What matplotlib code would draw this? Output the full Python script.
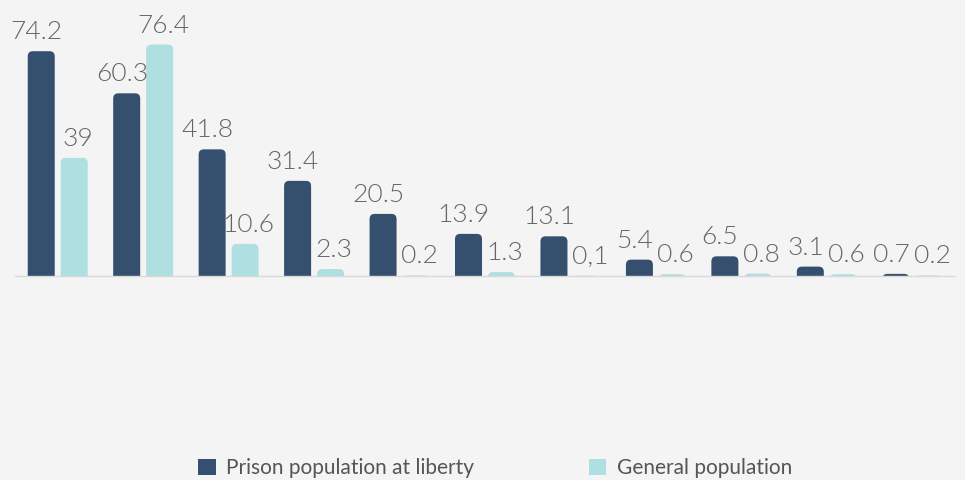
import numpy as np
import matplotlib
matplotlib.use('Agg')
import matplotlib.pyplot as plt
from matplotlib.patches import FancyBboxPatch, Patch

plt.rcParams['font.family'] = ['Lato', 'DejaVu Sans']

# data (categories have no visible labels)
n_groups = 11
prison = [74.2, 60.3, 41.8, 31.4, 20.5, 13.9, 13.1, 5.4, 6.5, 3.1, 0.7]
general = [39, 76.4, 10.6, 2.3, 0.2, 1.3, 0.1, 0.6, 0.8, 0.6, 0.2]
prison_labels = ['74.2', '60.3', '41.8', '31.4', '20.5', '13.9', '13.1', '5.4', '6.5', '3.1', '0.7']
general_labels = ['39', '76.4', '10.6', '2.3', '0.2', '1.3', '0,1', '0.6', '0.8', '0.6', '0.2']
series_names = ['Prison population at liberty', 'General population']

dark = '#34506e'
light = '#b0dfe1'
bg = '#f4f4f4'
txt = '#666666'

W, H = 965, 480
fig = plt.figure(figsize=(W / 100, H / 100), dpi=100, facecolor=bg)
ax = fig.add_axes([15 / W, (H - 276) / H, 940 / W, 276 / H])
ax.set_facecolor(bg)

x = np.arange(n_groups)
bw = 0.316
off = 0.193
ax.set_xlim(-0.5, n_groups - 0.5)
ax.set_ylim(0, 91.1)


def rounded_bars(xs, vals, color):
    bars = ax.bar(xs, vals, width=bw, color=color)
    # px per data unit, to keep the corner radius round
    px_x = 940 / n_groups
    px_y = 276 / 91.1
    aspect = px_x / px_y
    for b in bars:
        b.set_visible(False)
        x0 = b.get_x()
        h = b.get_height()
        r = 0.06
        p = FancyBboxPatch((x0, -3), bw, h + 3,
                           boxstyle=f"round,pad=0,rounding_size={r}",
                           mutation_aspect=aspect, facecolor=color,
                           edgecolor='none')
        ax.add_patch(p)
        p.set_clip_path(ax.patch)
    return bars


rounded_bars(x - off, prison, dark)
rounded_bars(x + off, general, light)

# labels sit slightly apart from each other, like in the original
for xi, v, s in zip(x - off, prison, prison_labels):
    ax.annotate(s, (xi, v), xytext=(-3.5, 5), textcoords='offset points',
                ha='center', va='bottom', fontsize=19, color=txt, fontweight=300)
for xi, v, s in zip(x + off, general, general_labels):
    ax.annotate(s, (xi, v), xytext=(2.5, 5), textcoords='offset points',
                ha='center', va='bottom', fontsize=19, color=txt, fontweight=300)

for sp in ['top', 'right', 'left']:
    ax.spines[sp].set_visible(False)
ax.spines['bottom'].set_color('#d9d9d9')
ax.spines['bottom'].set_linewidth(1)
ax.set_xticks([])
ax.set_yticks([])

handles = [Patch(facecolor=dark, label=series_names[0]),
           Patch(facecolor=light, label=series_names[1])]
fig.legend(handles=handles, loc='lower center', bbox_to_anchor=(0.513, -0.035),
           ncol=2, frameon=False, fontsize=15, labelcolor='#555555',
           handlelength=0.85, handleheight=0.85, handletextpad=0.5,
           columnspacing=5.5)

fig.savefig('out.png', dpi=100, facecolor=bg)
